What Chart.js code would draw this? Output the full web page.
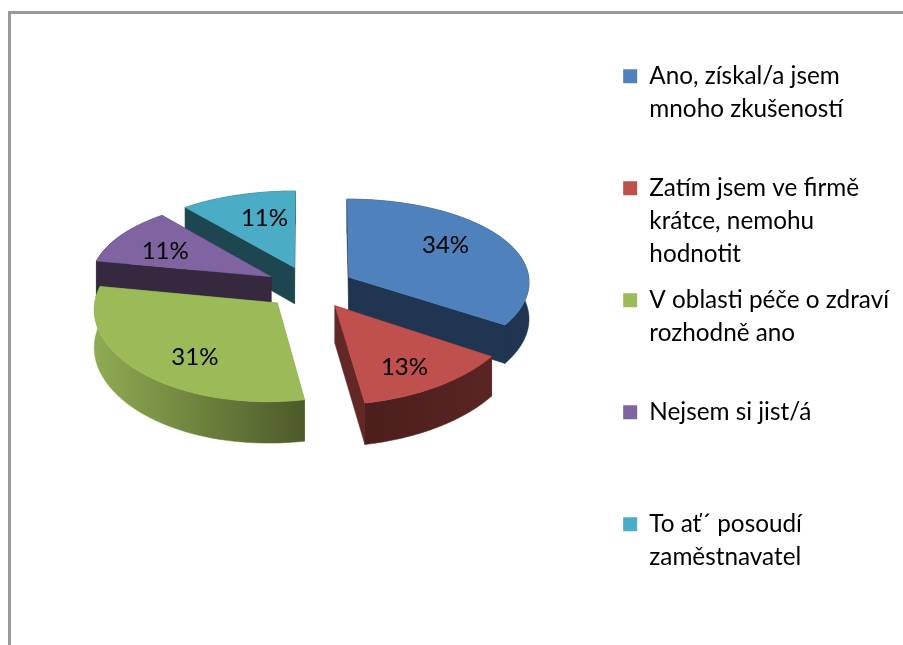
<!DOCTYPE html>
<html>
<head>
<meta charset="utf-8">
<script src="https://cdn.jsdelivr.net/npm/chart.js@4"></script>
<style>
  html, body { margin: 0; padding: 0; background: #fff; overflow: hidden; }
  #frame { position: absolute; left: 8px; top: 11px; width: 900px; height: 640px; border-left: 3px solid #999; border-top: 3px solid #999; }
  canvas { position: absolute; left: 0; top: 0; }
</style>
</head>
<body>
<div id="frame"></div>
<canvas id="graf" width="903" height="645"></canvas>
<script>
const categories = [
  ['Ano, získal/a jsem', 'mnoho zkušeností', ''],
  ['Zatím jsem ve firmě', 'krátce, nemohu', 'hodnotit'],
  ['V oblasti péče o zdraví', 'rozhodně ano', ''],
  ['Nejsem si jist/á', '', ''],
  ['To ať´ posoudí', 'zaměstnavatel', '']
];
const values = [34, 13, 31, 11, 11];
const topColors = ['#4f81bd', '#c0504d', '#9bbb59', '#8064a2', '#4bacc6'];
const wallColors = ['#1f3551', '#632826', '#7f9a48', '#35283f', '#1e4651'];
const rimFrom = ['#1f3551', '#4c1e1c', '#8fab52', '#35283f', '#1e4651'];
const rimTo = ['#1f3551', '#5a2523', '#4d5a2a', '#35283f', '#1e4651'];
const drawOrder = [4, 3, 0, 2, 1];
const labelNudge = [[1, -7], [6, 13], [2, 13], [-12, 1], [6, -3]];

const TILT = 0.48, PY = 0.09, PX = 0.05, DEPTH = 37, LIFT = 50;

// perspective of a point on the pie plane, z goes down
function project(el, u, v, z) {
  const R = el.outerRadius;
  const kx = 1 / (1 - PX * v / R), ky = 1 / (1 - PY * v / R);
  const warp = v > 0 ? 0.03 * v * v / R : 0;
  return { x: el.x + u * kx - warp, y: el.y - LIFT + v * TILT * ky + z * ky };
}

function slicePoint(el, ang, r, z) {
  const mid = (el.startAngle + el.endAngle) / 2, d = el.options.offset;
  return project(el, Math.cos(mid) * d + Math.cos(ang) * r, Math.sin(mid) * d + Math.sin(ang) * r, z);
}

function arcPoints(el, z, reverse) {
  const pts = [];
  for (let i = 0; i <= 60; i++) {
    const t = el.startAngle + (el.endAngle - el.startAngle) * i / 60;
    pts.push(slicePoint(el, t, el.outerRadius, z));
  }
  return reverse ? pts.reverse() : pts;
}

function fillPoly(ctx, pts, fill) {
  ctx.beginPath();
  pts.forEach((p, i) => i ? ctx.lineTo(p.x, p.y) : ctx.moveTo(p.x, p.y));
  ctx.closePath();
  ctx.fillStyle = fill;
  ctx.fill();
  ctx.strokeStyle = fill;
  ctx.lineWidth = 0.5;
  ctx.stroke();
}

const pie3d = {
  id: 'pie3d',
  beforeDatasetDraw(chart) {
    const ctx = chart.ctx, arcs = chart.getDatasetMeta(0).data;
    drawOrder.forEach(i => {
      const el = arcs[i], R = el.outerRadius;
      const apex = slicePoint(el, 0, 0, 0), apexB = slicePoint(el, 0, 0, DEPTH);
      // straight walls
      [el.startAngle, el.endAngle].forEach(a => {
        fillPoly(ctx, [apex, slicePoint(el, a, R, 0), slicePoint(el, a, R, DEPTH), apexB], wallColors[i]);
      });
      // outer rim
      const top = arcPoints(el, 0), bottom = arcPoints(el, DEPTH, true);
      const xs = top.map(p => p.x), g = ctx.createLinearGradient(Math.min(...xs), 0, Math.max(...xs), 0);
      g.addColorStop(0, rimFrom[i]);
      g.addColorStop(1, rimTo[i]);
      fillPoly(ctx, top.concat(bottom), g);
      // top face
      fillPoly(ctx, [apex].concat(top), topColors[i]);
    });
    return false;
  },
  afterDatasetsDraw(chart) {
    const ctx = chart.ctx, arcs = chart.getDatasetMeta(0).data;
    ctx.save();
    ctx.font = '24px Lato';
    ctx.fillStyle = '#000';
    ctx.textAlign = 'center';
    ctx.textBaseline = 'middle';
    arcs.forEach((el, i) => {
      const p = slicePoint(el, (el.startAngle + el.endAngle) / 2, el.outerRadius * 0.62, 0);
      ctx.fillText(values[i] + '%', p.x + labelNudge[i][0], p.y + labelNudge[i][1]);
    });
    ctx.restore();
  }
};

new Chart(document.getElementById('graf'), {
  type: 'pie',
  data: {
    labels: categories,
    datasets: [{ data: values, backgroundColor: topColors, borderWidth: 0, offset: 45 }]
  },
  options: {
    responsive: false,
    animation: false,
    radius: 181,
    layout: { padding: { left: 9, top: 30, right: 4 } },
    plugins: {
      tooltip: { enabled: false },
      legend: {
        position: 'right',
        align: 'center',
        labels: {
          boxWidth: 14,
          boxHeight: 14,
          padding: 13,
          color: '#000',
          font: { family: 'Lato', size: 24.3, lineHeight: 1.358 }
        }
      }
    }
  },
  plugins: [pie3d]
});
</script>
</body>
</html>
